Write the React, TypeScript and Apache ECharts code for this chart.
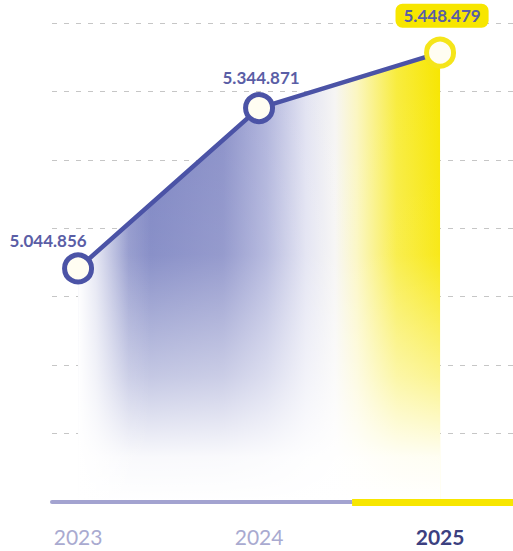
import React, { useEffect, useRef } from "react";
import * as echarts from "echarts";

const years = [2023, 2024, 2025];
const values = [5044856, 5344871, 5448479];
const yearLabels = ["2023", "2024", "2025"];

const fmt = (v: number) => String(Math.round(v)).replace(/\B(?=(\d{3})+(?!\d))/g, ".");

export default function App() {
  const ref = useRef<HTMLDivElement>(null);
  useEffect(() => {
    if (!ref.current) return;
    const chart = echarts.init(ref.current, null, { renderer: "svg" });
    const pts = years.map((y, i) => [y, values[i]]);
    const yMin = 4608000;
    const yInterval = 128000;
    const yMax = yMin + 7 * yInterval;
    const xMin = 2022.856;
    const xMax = 2025.403;
    const xSplit = 2024.514;
    const lineColor = "#4b53a6";
    const labelColor = "#5a5ea6";
    const yellow = "#f7e600";

    const labelOpts = [
      { position: "top", distance: 5, offset: [-30, 2] },
      { position: "top", distance: 5, offset: [2, -1] },
      {
        position: "top",
        distance: 9,
        offset: [2, 0],
        backgroundColor: yellow,
        padding: [3, 8],
        borderRadius: 7,
        lineHeight: 18,
      },
    ];

    const lineData = pts.map((p, i) => ({
      value: p,
      symbolSize: 27,
      itemStyle: {
        color: "#fffdf2",
        borderColor: i === 2 ? "#f5e51a" : lineColor,
        borderWidth: 5,
      },
      label: {
        show: true,
        formatter: () => fmt(values[i]),
        color: labelColor,
        fontFamily: "Lato",
        fontWeight: "bold",
        fontSize: 17,
        ...labelOpts[i],
      },
    }));

    const areaBase = {
      type: "line",
      data: pts,
      symbol: "none",
      silent: true,
      lineStyle: { width: 0 },
    };

    chart.setOption({
      animation: false,
      backgroundColor: "#ffffff",
      grid: {
        left: 52,
        right: 0,
        top: 23,
        bottom: 49,
        outerBoundsMode: "none",
        containLabel: false,
      },
      xAxis: {
        type: "value",
        min: xMin,
        max: xMax,
        splitLine: { show: false },
        axisTick: { show: false },
        axisLine: { show: true, lineStyle: { color: "#a3a3d0", width: 4 } },
        axisLabel: {
          customValues: years,
          margin: 24,
          formatter: (v: number) => {
            const idx = years.indexOf(Math.round(v));
            const t = idx >= 0 ? yearLabels[idx] : "";
            return idx === 2 ? `{b|${t}}` : `{a|${t}}`;
          },
          rich: {
            a: { fontFamily: "Lato", fontSize: 21, color: "#a9aad0" },
            b: { fontFamily: "Lato", fontSize: 21, fontWeight: "bold", color: "#3c4080" },
          },
        },
      },
      yAxis: {
        type: "value",
        min: yMin,
        max: yMax,
        interval: yInterval,
        axisLabel: { show: false },
        axisLine: { show: false },
        axisTick: { show: false },
        splitLine: { show: true, lineStyle: { color: "#c6c6c6", width: 1, type: [5, 7] } },
      },
      series: [
        {
          ...areaBase,
          z: 2,
          areaStyle: {
            opacity: 1,
            color: new echarts.graphic.LinearGradient(0, 0, 1, 0, [
              { offset: 0, color: "#8e94ca" },
              { offset: 0.2, color: "#7c84c2" },
              { offset: 0.4, color: "#8a90c8" },
              { offset: 0.52, color: "#b0b4dc" },
              { offset: 0.63, color: "#e2e3f2" },
              { offset: 0.71, color: "#f6f5f4" },
              { offset: 0.77, color: "#fbf6c0" },
              { offset: 0.88, color: "#f8ec3c" },
              { offset: 1, color: yellow },
            ]),
          },
        },
        {
          ...areaBase,
          z: 3,
          areaStyle: {
            opacity: 1,
            color: new echarts.graphic.LinearGradient(0, 0, 0, 1, [
              { offset: 0, color: "rgba(255,255,255,0)" },
              { offset: 0.45, color: "rgba(255,255,255,0.1)" },
              { offset: 0.72, color: "rgba(255,255,255,0.55)" },
              { offset: 0.9, color: "rgba(255,255,255,0.95)" },
              { offset: 1, color: "rgba(255,255,255,1)" },
            ]),
          },
        },
        {
          ...areaBase,
          z: 4,
          areaStyle: {
            opacity: 1,
            color: new echarts.graphic.LinearGradient(0, 0, 1, 0, [
              { offset: 0, color: "rgba(255,255,255,1)" },
              { offset: 0.05, color: "rgba(255,255,255,0.75)" },
              { offset: 0.14, color: "rgba(255,255,255,0.1)" },
              { offset: 0.2, color: "rgba(255,255,255,0)" },
              { offset: 1, color: "rgba(255,255,255,0)" },
            ]),
          },
        },
        {
          type: "line",
          z: 5,
          data: lineData,
          symbol: "circle",
          lineStyle: { color: lineColor, width: 4.5 },
          itemStyle: { color: "#fffdf2", borderColor: lineColor, borderWidth: 5 },
          markLine: {
            silent: true,
            symbol: "none",
            label: { show: false },
            data: [
              [
                { coord: [xMin, yMin], lineStyle: { color: "#a3a3d0", width: 4, type: "solid" } },
                { coord: [xSplit, yMin] },
              ],
              [
                { coord: [xSplit, yMin], lineStyle: { color: yellow, width: 7, type: "solid" } },
                { coord: [xMax, yMin] },
              ],
            ],
          },
        },
      ],
    });
    return () => chart.dispose();
  }, []);
  return (
    <div
      ref={ref}
      style={{ position: "fixed", left: 0, top: 0, width: 513, height: 551, background: "#fff" }}
    />
  );
}
